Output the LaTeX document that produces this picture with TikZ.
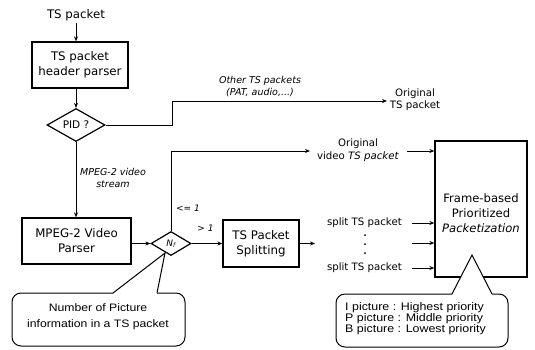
\documentclass[tikz,border=0pt]{standalone}
\usepackage{fontspec}
\setmainfont{DejaVu Sans}
\newfontfamily\bubfont[FakeStretch=1.13]{Liberation Sans}
\usetikzlibrary{arrows.meta,shapes.geometric}
\begin{document}
\begin{tikzpicture}[x=1pt,y=-1pt,
  procbox/.style={draw,line width=1.3pt,inner sep=0pt,align=center,font=\fontsize{11.8}{15}\selectfont},
  decision/.style={draw,diamond,aspect=1.2,inner sep=0pt,line width=1.2pt},
  plain/.style={inner sep=2pt,align=center,font=\fontsize{11.8}{15}\selectfont},
  txtten/.style={inner sep=0pt,align=center,font=\fontsize{10.2}{11.5}\selectfont},
  lbl/.style={inner sep=0pt,align=center,font=\fontsize{9.5}{12}\selectfont\itshape},
  lblsm/.style={inner sep=0pt,font=\fontsize{9}{11}\selectfont\itshape},
  conn/.style={line width=1pt},
  arr/.style={conn,-{Stealth[length=5pt,width=4pt]}},
  bubble/.style={line width=1pt,rounded corners=9pt},
  bubtext/.style={inner sep=0pt,align=left,font=\bubfont\fontsize{11}{10.8}\selectfont}
]
\useasboundingbox (0,0) rectangle (535,349);

% nodes
\node[plain] (ts) at (76,15) {TS packet};
\node[procbox,minimum width=96pt,minimum height=46pt] (hdr) at (80,65) {TS packet\\header parser};
\node[decision,minimum width=58pt,minimum height=33pt,font=\fontsize{10.5}{12}\selectfont] (pid) at (76,125) {PID ?};
\node[procbox,minimum width=109pt,minimum height=46pt] (mpeg) at (76.5,241) {MPEG-2 Video\\Parser};
\node[decision,aspect=1,minimum width=40pt,minimum height=24pt,font=\fontsize{9}{10}\selectfont\itshape] (nf) at (171,243.5) {N\textsubscript{f}};
\node[procbox,minimum width=76pt,minimum height=47pt] (split) at (261,243.5) {TS Packet\\Splitting};
\node[procbox,minimum width=92pt,minimum height=136pt] (fb) at (481,209) {};
\node[inner sep=0pt,align=center,font=\fontsize{11.6}{15}\selectfont] (fbt) at (481,213) {Frame-based\\Prioritized\\\textit{Packetization}};

\node[lbl] (oth) at (260,87) {Other TS packets\\(PAT, audio,...)};
\coordinate (bend1) at (172,101);
\coordinate (ot) at (387,101);
\node[txtten] (origts) at (415,99.5) {Original\\TS packet};
\node[lbl] (strm) at (113,178) {MPEG-2 video\\stream};
\node[lblsm] (le) at (188,208) {<= 1};
\node[lblsm] (gt) at (205.5,228.5) {> 1};
\coordinate (ov) at (310,151);
\node[txtten,font=\fontsize{10.2}{13}\selectfont] (origv) at (358,150.5) {Original\\video \textit{TS packet}};
\coordinate (sp0) at (315,243.5);
\node[txtten,anchor=east] (sp1) at (402,223) {split TS packet};
\node[txtten,anchor=east] (sp2) at (402,268) {split TS packet};
\fill (365,235) circle (1pt);
\fill (365,244) circle (1pt);
\fill (365,253) circle (1pt);

% connectors
\draw[arr] (ts) -- (ts |- hdr.north);
\draw[arr] (pid.north |- hdr.south) -- (pid.north);
\draw[arr] (pid.east) -| (bend1) -- (ot);
\draw[arr] (pid.south) -- (pid.south |- mpeg.north);
\draw[arr] (mpeg.east |- nf.west) -- (nf.west);
\draw[arr] (nf.north) |- (ov);
\draw[arr] (nf.east) -- (split.west |- nf.east);
\draw[arr] (split.east) -- (sp0);
\coordinate (i1) at (407,151);
\coordinate (i2) at (412,223);
\coordinate (i3) at (412,243);
\coordinate (i4) at (412,268);
\draw[arr] (i1) -- (i1 -| fb.west);
\draw[arr] (i2) -- (i2 -| fb.west);
\draw[arr] (i3) -- (i3 -| fb.west);
\draw[arr] (i4) -- (i4 -| fb.west);

% left callout
\draw[bubble] (157,293) -- (185,293) -- (185,346) -- (12,346) -- (12,293) -- (113,293);
\draw[line width=1pt] (113,293) -- (165,253) -- (157,293);
\node[bubtext,align=center,font=\bubfont\fontsize{10.8}{16}\selectfont] (nbt) at (98,317) {Number of Picture\\information in a TS packet};

% right callout
\fill[white] (452,294) -- (472,255) -- (492,294) -- cycle;
\draw[bubble] (492,294) -- (508,294) -- (508,347) -- (336,347) -- (336,294) -- (452,294);
\draw[line width=1pt] (452,294) -- (472,255) -- (492,294);
\node[bubtext,anchor=north west] (pri) at (345,302.5) {I picture : Highest priority\\P picture : Middle priority\\B picture : Lowest priority};
\end{tikzpicture}
\end{document}
